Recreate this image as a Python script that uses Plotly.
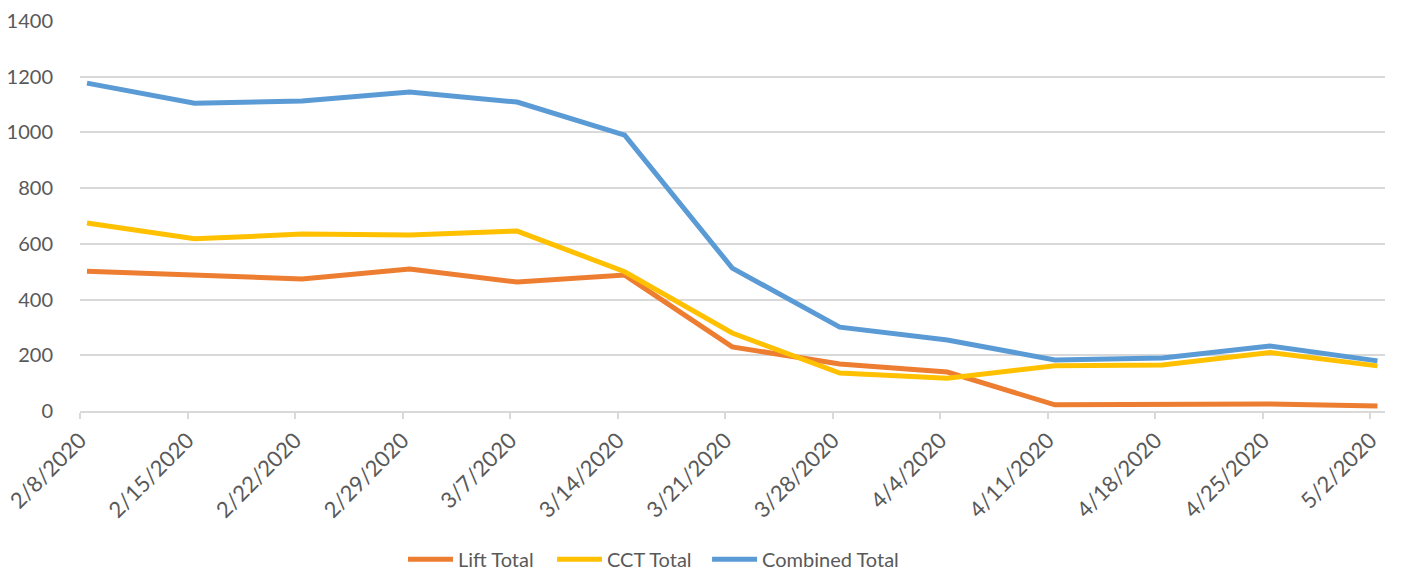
import plotly.graph_objects as go

dates = ["2/8/2020", "2/15/2020", "2/22/2020", "2/29/2020", "3/7/2020", "3/14/2020",
         "3/21/2020", "3/28/2020", "4/4/2020", "4/11/2020", "4/18/2020", "4/25/2020", "5/2/2020"]
lift_total = [502, 488, 474, 510, 463, 488, 230, 169, 140, 22, 25, 25, 18]
cct_total = [675, 618, 635, 632, 646, 500, 280, 136, 118, 162, 165, 210, 162]
combined_total = [1177, 1105, 1113, 1145, 1109, 990, 513, 301, 255, 183, 190, 233, 180]
y_ticks = [0, 200, 400, 600, 800, 1000, 1200, 1400]

idx = list(range(len(dates)))

series = [("Lift Total", lift_total, "#ED7D31", "legend", 0.2475),
          ("CCT Total", cct_total, "#FFC000", "legend2", 0.3617),
          ("Combined Total", combined_total, "#5B9BD5", "legend3", 0.4805)]

fig = go.Figure()
for name, vals, color, leg, _ in series:
    fig.add_trace(go.Scatter(x=idx, y=vals, name=name, mode="lines", legend=leg,
                             line=dict(color=color, width=5)))

font_family = "Lato, Open Sans, sans-serif"
legend_layout = {}
for _, _, _, leg, lx in series:
    legend_layout[leg] = dict(orientation="h", x=lx, xanchor="left", y=-0.38, yanchor="middle",
                              font=dict(size=20, color="#595959"), itemwidth=45,
                              bgcolor="rgba(0,0,0,0)")

fig.update_layout(
    width=1406, height=572,
    margin=dict(l=80, r=21, t=21, b=161, autoexpand=False),
    plot_bgcolor="white", paper_bgcolor="white",
    font=dict(family=font_family, size=20, color="#595959"),
    showlegend=True,
    xaxis=dict(
        automargin=False,
        range=[-0.065, 12.07],
        tickmode="array",
        tickvals=[i - 0.065 for i in idx],
        ticktext=dates,
        tickangle=-45,
        showgrid=False,
        showline=True, linecolor="#D9D9D9", linewidth=1.5,
        ticks="outside", ticklen=6, tickcolor="#D9D9D9", tickwidth=1.5,
        tickfont=dict(size=22, color="#595959"),
        zeroline=False,
    ),
    yaxis=dict(
        automargin=False,
        range=[0, 1400],
        tickmode="array", tickvals=y_ticks,
        showgrid=True, gridcolor="#D9D9D9", gridwidth=1.5,
        zeroline=False, showline=False,
        ticks="", ticklabelstandoff=26,
        tickfont=dict(size=20, color="#595959"),
    ),
    **legend_layout,
)

fig.write_html("out.html", config={"displayModeBar": False},
               post_script="document.body.style.margin='0';document.body.style.overflow='hidden';")
